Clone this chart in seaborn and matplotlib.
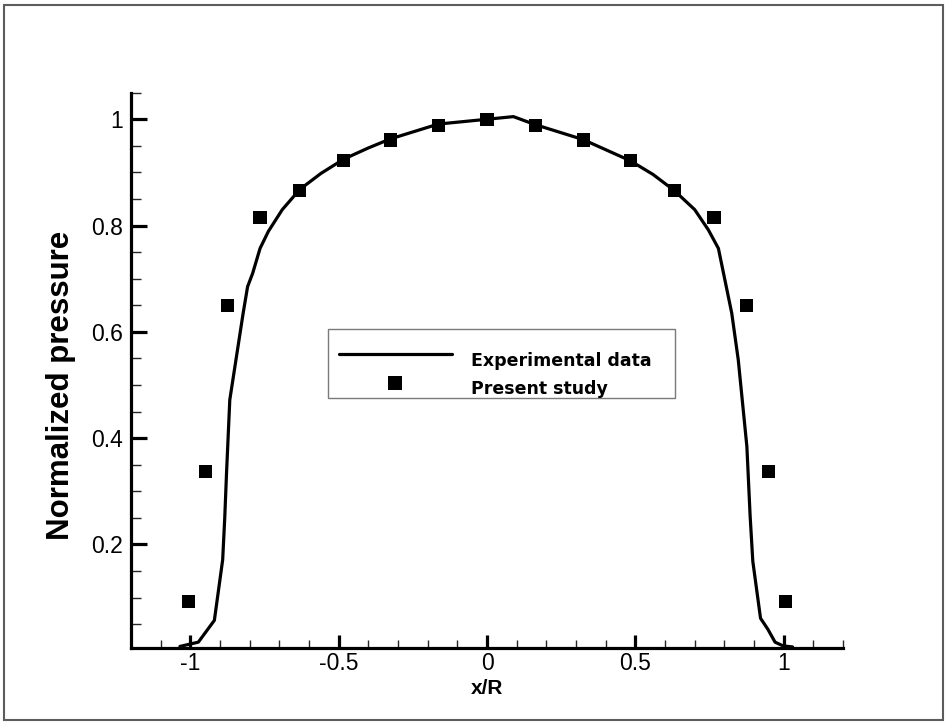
import matplotlib
matplotlib.use("Agg")
import matplotlib.pyplot as plt
from matplotlib.patches import Rectangle
from matplotlib.ticker import MultipleLocator, FuncFormatter
import numpy as np
import pandas as pd
import seaborn as sns

# Experimental pressure profile across the contact (x/R vs normalized pressure)
exp_x = [-1.035, -0.973, -0.919, -0.891, -0.884, -0.878, -0.867, -0.822, -0.807,
         -0.790, -0.765, -0.737, -0.690, -0.631, -0.560, -0.483, -0.400, -0.326,
         -0.164, 0.0, 0.089, 0.162, 0.323, 0.483, 0.560, 0.631, 0.700, 0.746,
         0.780, 0.825, 0.847, 0.876, 0.887, 0.896, 0.922, 0.947, 0.971, 0.998, 1.030]
exp_p = [0.008, 0.016, 0.057, 0.171, 0.250, 0.334, 0.472, 0.635, 0.685,
         0.710, 0.757, 0.789, 0.830, 0.868, 0.898, 0.925, 0.946, 0.963,
         0.991, 1.000, 1.005, 0.990, 0.962, 0.922, 0.896, 0.866, 0.830, 0.792,
         0.757, 0.635, 0.547, 0.384, 0.253, 0.168, 0.061, 0.040, 0.016, 0.009, 0.007]

# Computed pressure at the sampled positions
study_x = [-1.007, -0.948, -0.876, -0.765, -0.631, -0.483, -0.326, -0.164, 0.0,
           0.164, 0.326, 0.483, 0.631, 0.765, 0.876, 0.948, 1.007]
study_p = [0.092, 0.337, 0.650, 0.815, 0.866, 0.922, 0.961, 0.988, 1.000,
           0.988, 0.961, 0.922, 0.866, 0.815, 0.650, 0.337, 0.092]

sns.set_theme(style="white")
plt.rcParams["font.family"] = ["Liberation Sans", "DejaVu Sans"]
plt.rcParams["axes.unicode_minus"] = False
plt.rcParams["text.color"] = "black"

W, H = 947, 724
fig = plt.figure(figsize=(W / 100, H / 100), dpi=100)
fig.patch.set_facecolor("white")

ax_l, ax_r, ax_b, ax_t = 131, 843, 648, 92.7
ax = fig.add_axes([ax_l / W, 1 - ax_b / H, (ax_r - ax_l) / W, (ax_b - ax_t) / H])
ax.set_facecolor("white")

exp_df = pd.DataFrame({"x": exp_x, "p": exp_p})
study_df = pd.DataFrame({"x": study_x, "p": study_p})

sns.lineplot(data=exp_df, x="x", y="p", sort=False, estimator=None,
             color="black", linewidth=2.3, ax=ax, label="Experimental data")
sns.scatterplot(data=study_df, x="x", y="p", marker="s", s=90, color="black",
                edgecolor="none", linewidth=0, ax=ax, label="Present study", zorder=3)

ax.set_xlim(-1.2, 1.2)
ax.set_ylim(0.005, 1.05)

for side in ("top", "right"):
    ax.spines[side].set_visible(False)
for side in ("left", "bottom"):
    ax.spines[side].set_linewidth(2.3)
    ax.spines[side].set_color("black")

ax.xaxis.set_major_locator(MultipleLocator(0.5))
ax.xaxis.set_minor_locator(MultipleLocator(0.1))
ax.yaxis.set_major_locator(MultipleLocator(0.2))
ax.yaxis.set_minor_locator(MultipleLocator(0.05))
fmt = FuncFormatter(lambda v, pos: f"{v:g}")
ax.xaxis.set_major_formatter(fmt)
ax.yaxis.set_major_formatter(fmt)

ax.tick_params(axis="x", which="major", direction="in", length=9.5, width=2.3,
               labelsize=16.5, pad=3, colors="black", bottom=True)
ax.tick_params(axis="x", which="minor", direction="in", length=6, width=1.0,
               bottom=True)
ax.tick_params(axis="y", which="major", direction="in", length=11.5, width=2.3,
               labelsize=16.5, pad=6, colors="black", left=True)
ax.tick_params(axis="y", which="minor", direction="in", length=7, width=1.0,
               left=True)

ax.set_xlabel("x/R", fontsize=15, fontweight="bold", color="black")
ax.xaxis.label.set_verticalalignment("center")
ax.xaxis.set_label_coords(0.5, (ax_b - 688) / (ax_b - ax_t))

ax.set_ylabel("Normalized pressure", fontsize=22.5, fontweight="bold", color="black")
ax.yaxis.label.set_verticalalignment("center")
ax.yaxis.set_label_coords((61 - ax_l) / (ax_r - ax_l), (ax_b - 385) / (ax_b - ax_t))

# Legend: entries placed inside a drawn box
handles, labels = ax.get_legend_handles_labels()
ax.get_legend().remove()
leg = fig.legend(handles, labels, loc="center left",
                 bbox_to_anchor=(339 / W, 1 - 375 / H),
                 bbox_transform=fig.transFigure, frameon=False,
                 borderpad=0, borderaxespad=0, handlelength=6.5,
                 handletextpad=1.13, labelspacing=0.56, labelcolor="black",
                 prop={"family": ["DejaVu Sans"], "weight": "bold", "size": 12.5})
# raise the legend symbols to sit level with the top of the labels
lift = 4.3
line_h = leg.legend_handles[0]
line_h.set_color("black")
line_h.set_ydata(np.asarray(line_h.get_ydata(), dtype=float) + lift)
mark_h = leg.legend_handles[1]
mark_h.set_color("black")
mark_h.set_offsets(np.asarray(mark_h.get_offsets(), dtype=float) + [0, lift])

fig.patches.append(Rectangle((328 / W, 1 - 398 / H), (675 - 328) / W, (398 - 329) / H,
                             transform=fig.transFigure, fill=False,
                             edgecolor="#7a7a7a", linewidth=1.0))

# Outer frame around the figure
fig.patches.append(Rectangle((4 / W, 1 - 720 / H), (943 - 4) / W, (720 - 5) / H,
                             transform=fig.transFigure, fill=False,
                             edgecolor="#5c5c5c", linewidth=1.5))

fig.savefig("out.png", dpi=100)
